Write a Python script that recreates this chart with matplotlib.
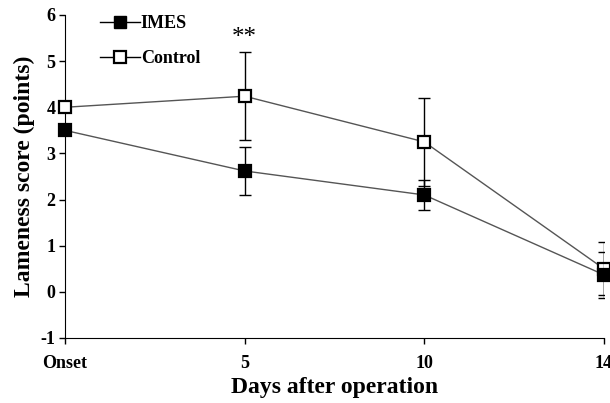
import matplotlib.pyplot as plt
from matplotlib.lines import Line2D

days = ["Onset", "5", "10", "14"]
imes_mean = [3.5, 2.62, 2.1, 0.37]
imes_err = [0.0, 0.52, 0.33, 0.50]
ctrl_mean = [4.0, 4.24, 3.25, 0.50]
ctrl_err = [0.0, 0.95, 0.95, 0.57]

plt.rcParams["font.family"] = "Liberation Serif"
plt.rcParams["font.weight"] = "bold"
plt.rcParams["axes.unicode_minus"] = False

fig = plt.figure(figsize=(6.1, 4.03), dpi=100)
ax = fig.add_axes([0.1066, 0.1613, 0.8834, 0.8015])

x = list(range(len(days)))


def draw(mean, err, face, z):
    idx = [i for i, e in enumerate(err) if e > 0]
    ax.errorbar([x[i] for i in idx], [mean[i] for i in idx],
                yerr=[err[i] for i in idx], fmt="none", ecolor="black",
                elinewidth=1, capsize=4, capthick=1, zorder=z)
    ax.plot(x, mean, color="#555555", lw=1, marker="s", ms=8.5, mfc=face,
            mec="black", mew=1.6, zorder=z + 1, clip_on=False)


draw(ctrl_mean, ctrl_err, "white", 3)
draw(imes_mean, imes_err, "black", 5)

ax.text(1, 5.5, "**", ha="center", va="center", fontsize=18, fontweight="normal")

ax.set_xlim(0, 3)
ax.set_ylim(-1, 6)
ax.set_xticks(x)
ax.set_xticklabels(days)
ax.set_yticks(range(-1, 7))
ax.tick_params(labelsize=13, length=4, width=1, direction="out", pad=8)
ax.tick_params(axis="y", pad=3)
ax.spines[["top", "right"]].set_visible(False)
ax.set_xlabel("Days after operation", fontsize=17, fontweight="bold", labelpad=4)
ax.set_ylabel("Lameness score (points)", fontsize=17, fontweight="bold", labelpad=4)

handles = [
    Line2D([], [], color="black", lw=1, marker="s", ms=8.5, mfc="black", mec="black"),
    Line2D([], [], color="black", lw=1, marker="s", ms=8.5, mfc="white", mec="black", mew=1.6),
]
ax.legend(handles, ["IMES", "Control"], loc="upper left", bbox_to_anchor=(0.035, 1.05),
          frameon=False, fontsize=13, handlelength=2.2, handletextpad=0.05,
          labelspacing=1.0)

fig.savefig("out.png", dpi=100)
